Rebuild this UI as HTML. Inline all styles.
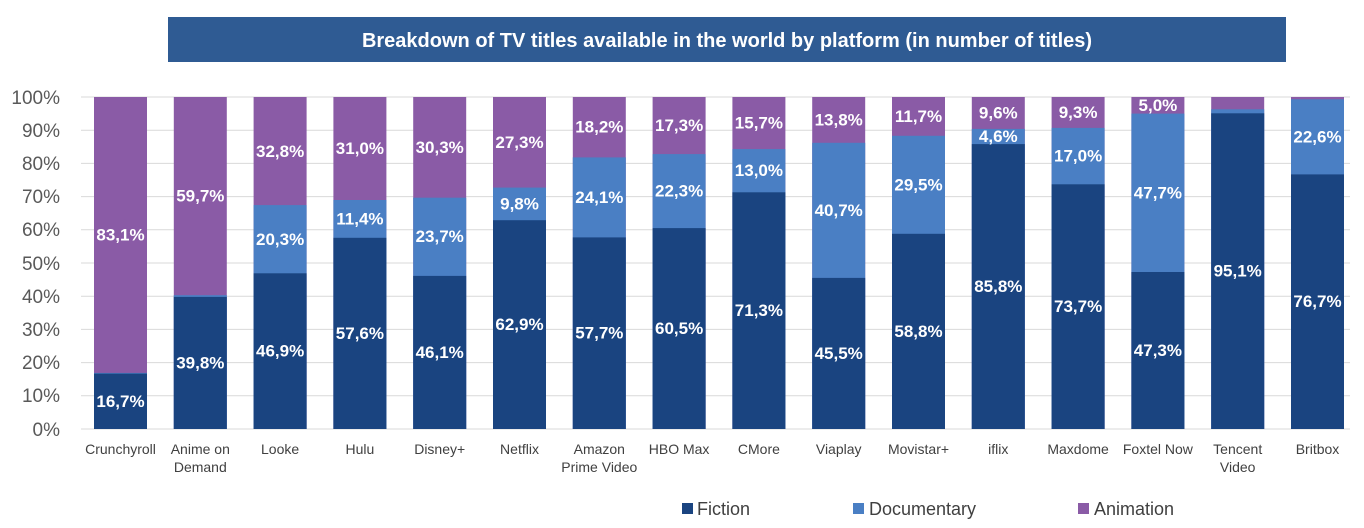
<!DOCTYPE html>
<html><head><meta charset="utf-8"><style>
html,body{margin:0;padding:0;background:#fff;}
svg{display:block;font-family:"Liberation Sans",sans-serif;}
.t{font-size:19px;fill:#595959;text-anchor:end;}
.c{font-size:14px;fill:#404040;text-anchor:middle;}
.l{font-size:17px;font-weight:bold;fill:#fff;text-anchor:middle;dominant-baseline:central;}
.g{stroke:#d9d9d9;stroke-width:1;}
</style></head><body>
<svg width="1364" height="528" viewBox="0 0 1364 528">
<rect x="168" y="17" width="1118" height="45" fill="#2f5b93"/>
<text x="727" y="47" text-anchor="middle" font-size="20" font-weight="bold" fill="#fff">Breakdown of TV titles available in the world by platform (in number of titles)</text>
<g class="g">
<line x1="81" x2="1350" y1="97" y2="97"/><line x1="81" x2="1350" y1="130.2" y2="130.2"/><line x1="81" x2="1350" y1="163.4" y2="163.4"/><line x1="81" x2="1350" y1="196.6" y2="196.6"/><line x1="81" x2="1350" y1="229.8" y2="229.8"/><line x1="81" x2="1350" y1="263" y2="263"/><line x1="81" x2="1350" y1="296.2" y2="296.2"/><line x1="81" x2="1350" y1="329.4" y2="329.4"/><line x1="81" x2="1350" y1="362.6" y2="362.6"/><line x1="81" x2="1350" y1="395.8" y2="395.8"/><line x1="81" x2="1350" y1="429" y2="429"/>
</g>
<g class="t">
<text x="60" y="104">100%</text><text x="60" y="137">90%</text><text x="60" y="170">80%</text><text x="60" y="203">70%</text><text x="60" y="236">60%</text><text x="60" y="270">50%</text><text x="60" y="303">40%</text><text x="60" y="336">30%</text><text x="60" y="369">20%</text><text x="60" y="402">10%</text><text x="60" y="436">0%</text>
</g>
<g>
<rect x="94" y="97" width="53" height="332" fill="#8a5ba6"/><rect x="94" y="372.9" width="53" height="56.1" fill="#4a7fc4"/><rect x="94" y="373.6" width="53" height="55.4" fill="#1a4480"/>
<rect x="173.8" y="97" width="53" height="332" fill="#8a5ba6"/><rect x="173.8" y="295.2" width="53" height="133.8" fill="#4a7fc4"/><rect x="173.8" y="296.9" width="53" height="132.1" fill="#1a4480"/>
<rect x="253.6" y="97" width="53" height="332" fill="#8a5ba6"/><rect x="253.6" y="205.1" width="53" height="223.9" fill="#4a7fc4"/><rect x="253.6" y="273.3" width="53" height="155.7" fill="#1a4480"/>
<rect x="333.4" y="97" width="53" height="332" fill="#8a5ba6"/><rect x="333.4" y="200.0" width="53" height="229" fill="#4a7fc4"/><rect x="333.4" y="237.8" width="53" height="191.2" fill="#1a4480"/>
<rect x="413.2" y="97" width="53" height="332" fill="#8a5ba6"/><rect x="413.2" y="197.7" width="53" height="231.3" fill="#4a7fc4"/><rect x="413.2" y="275.9" width="53" height="153.1" fill="#1a4480"/>
<rect x="493" y="97" width="53" height="332" fill="#8a5ba6"/><rect x="493" y="187.6" width="53" height="241.4" fill="#4a7fc4"/><rect x="493" y="220.2" width="53" height="208.8" fill="#1a4480"/>
<rect x="572.8" y="97" width="53" height="332" fill="#8a5ba6"/><rect x="572.8" y="157.4" width="53" height="271.6" fill="#4a7fc4"/><rect x="572.8" y="237.4" width="53" height="191.6" fill="#1a4480"/>
<rect x="652.6" y="97" width="53" height="332" fill="#8a5ba6"/><rect x="652.6" y="154.1" width="53" height="274.9" fill="#4a7fc4"/><rect x="652.6" y="228.1" width="53" height="200.9" fill="#1a4480"/>
<rect x="732.4" y="97" width="53" height="332" fill="#8a5ba6"/><rect x="732.4" y="149.1" width="53" height="279.9" fill="#4a7fc4"/><rect x="732.4" y="192.3" width="53" height="236.7" fill="#1a4480"/>
<rect x="812.2" y="97" width="53" height="332" fill="#8a5ba6"/><rect x="812.2" y="142.8" width="53" height="286.2" fill="#4a7fc4"/><rect x="812.2" y="277.9" width="53" height="151.1" fill="#1a4480"/>
<rect x="892" y="97" width="53" height="332" fill="#8a5ba6"/><rect x="892" y="135.8" width="53" height="293.2" fill="#4a7fc4"/><rect x="892" y="233.8" width="53" height="195.2" fill="#1a4480"/>
<rect x="971.8" y="97" width="53" height="332" fill="#8a5ba6"/><rect x="971.8" y="128.9" width="53" height="300.1" fill="#4a7fc4"/><rect x="971.8" y="144.1" width="53" height="284.9" fill="#1a4480"/>
<rect x="1051.6" y="97" width="53" height="332" fill="#8a5ba6"/><rect x="1051.6" y="127.9" width="53" height="301.1" fill="#4a7fc4"/><rect x="1051.6" y="184.3" width="53" height="244.7" fill="#1a4480"/>
<rect x="1131.4" y="97" width="53" height="332" fill="#8a5ba6"/><rect x="1131.4" y="113.6" width="53" height="315.4" fill="#4a7fc4"/><rect x="1131.4" y="272.0" width="53" height="157" fill="#1a4480"/>
<rect x="1211.2" y="97" width="53" height="332" fill="#8a5ba6"/><rect x="1211.2" y="109.3" width="53" height="319.7" fill="#4a7fc4"/><rect x="1211.2" y="113.3" width="53" height="315.7" fill="#1a4480"/>
<rect x="1291" y="97" width="53" height="332" fill="#8a5ba6"/><rect x="1291" y="99.3" width="53" height="329.7" fill="#4a7fc4"/><rect x="1291" y="174.4" width="53" height="254.6" fill="#1a4480"/>
</g>
<g class="l">
<text x="120.5" y="401.3">16,7%</text><text x="120.5" y="235">83,1%</text>
<text x="200.3" y="362.9">39,8%</text><text x="200.3" y="196.1">59,7%</text>
<text x="280.1" y="351.1">46,9%</text><text x="280.1" y="239.6">20,3%</text><text x="280.1" y="151.4">32,8%</text>
<text x="359.9" y="333.4">57,6%</text><text x="359.9" y="218.8">11,4%</text><text x="359.9" y="148.5">31,0%</text>
<text x="439.7" y="352.5">46,1%</text><text x="439.7" y="236.6">23,7%</text><text x="439.7" y="147.3">30,3%</text>
<text x="519.5" y="324.6">62,9%</text><text x="519.5" y="203.9">9,8%</text><text x="519.5" y="142.3">27,3%</text>
<text x="599.3" y="333.2">57,7%</text><text x="599.3" y="197.4">24,1%</text><text x="599.3" y="127.2">18,2%</text>
<text x="679.1" y="328.6">60,5%</text><text x="679.1" y="191.1">22,3%</text><text x="679.1" y="125.7">17,3%</text>
<text x="758.9" y="310.6">71,3%</text><text x="758.9" y="170.7">13,0%</text><text x="758.9" y="123.1">15,7%</text>
<text x="838.7" y="353.5">45,5%</text><text x="838.7" y="210.4">40,7%</text><text x="838.7" y="119.9">13,8%</text>
<text x="918.5" y="331.4">58,8%</text><text x="918.5" y="184.8">29,5%</text><text x="918.5" y="116.4">11,7%</text>
<text x="998.3" y="286.6">85,8%</text><text x="998.3" y="136.5">4,6%</text><text x="998.3" y="113">9,6%</text>
<text x="1078.1" y="306.7">73,7%</text><text x="1078.1" y="156.1">17,0%</text><text x="1078.1" y="112.4">9,3%</text>
<text x="1157.9" y="350.5">47,3%</text><text x="1157.9" y="192.8">47,7%</text><text x="1157.9" y="105.3">5,0%</text>
<text x="1237.7" y="271.1">95,1%</text>
<text x="1317.5" y="301.7">76,7%</text><text x="1317.5" y="136.8">22,6%</text>
</g>
<g class="c">
<text x="120.5" y="454">Crunchyroll</text>
<text x="200.3" y="454">Anime on</text><text x="200.3" y="472">Demand</text>
<text x="280.1" y="454">Looke</text>
<text x="359.9" y="454">Hulu</text>
<text x="439.7" y="454">Disney+</text>
<text x="519.5" y="454">Netflix</text>
<text x="599.3" y="454">Amazon</text><text x="599.3" y="472">Prime Video</text>
<text x="679.1" y="454">HBO Max</text>
<text x="758.9" y="454">CMore</text>
<text x="838.7" y="454">Viaplay</text>
<text x="918.5" y="454">Movistar+</text>
<text x="998.3" y="454">iflix</text>
<text x="1078.1" y="454">Maxdome</text>
<text x="1157.9" y="454">Foxtel Now</text>
<text x="1237.7" y="454">Tencent</text><text x="1237.7" y="472">Video</text>
<text x="1317.5" y="454">Britbox</text>
</g>
<rect x="682" y="503" width="11" height="11" fill="#1a4480"/>
<text x="697" y="515" font-size="18" fill="#404040">Fiction</text>
<rect x="853" y="503" width="11" height="11" fill="#4a7fc4"/>
<text x="869" y="515" font-size="18" fill="#404040">Documentary</text>
<rect x="1078" y="503" width="11" height="11" fill="#8a5ba6"/>
<text x="1094" y="515" font-size="18" fill="#404040">Animation</text>
</svg>
</body></html>
